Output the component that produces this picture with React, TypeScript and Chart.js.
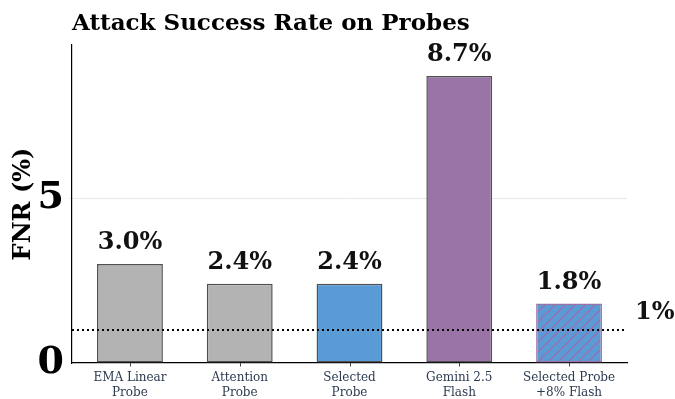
import React, { useEffect, useRef } from "react";
import { Chart, registerables } from "chart.js";

Chart.register(...registerables);

const categories: string[][] = [
  ["EMA Linear", "Probe"],
  ["Attention", "Probe"],
  ["Selected", "Probe"],
  ["Gemini 2.5", "Flash"],
  ["Selected Probe", "+8% Flash"],
];
const fnrValues = [3.0, 2.4, 2.4, 8.7, 1.8];
const valueLabels = ["3.0%", "2.4%", "2.4%", "8.7%", "1.8%"];
const yTicks = [0, 5];
const thresholdValue = 1;
const thresholdLabel = "1%";
const titleText = "Attack Success Rate on Probes";

const SERIF = "'DejaVu Serif', 'Liberation Serif', serif";

function makeHatch(): CanvasPattern | string {
  const c = document.createElement("canvas");
  c.width = 10;
  c.height = 10;
  const ctx = c.getContext("2d");
  if (!ctx) return "#5a9bd5";
  ctx.fillStyle = "#5a9bd5";
  ctx.fillRect(0, 0, 10, 10);
  ctx.strokeStyle = "#9a6fae";
  ctx.lineWidth = 1.3;
  ctx.beginPath();
  ctx.moveTo(-1, 11);
  ctx.lineTo(11, -1);
  ctx.moveTo(-6, 6);
  ctx.lineTo(6, -6);
  ctx.moveTo(4, 16);
  ctx.lineTo(16, 4);
  ctx.stroke();
  return ctx.createPattern(c, "repeat") || "#5a9bd5";
}

export default function App() {
  const ref = useRef<HTMLCanvasElement | null>(null);
  useEffect(() => {
    document.body.style.margin = "0";
    const canvas = ref.current;
    if (!canvas) return;
    const hatch = makeHatch();
    const overlay = {
      id: "overlay",
      afterDatasetsDraw(chart: any) {
        const { ctx, chartArea, scales } = chart;
        const y = scales.y;
        const x = scales.x;
        ctx.save();
        ctx.strokeStyle = "#444";
        ctx.lineWidth = 1;
        categories.forEach((_, i) => {
          const px = Math.round(x.getPixelForValue(i)) + 0.5;
          ctx.beginPath();
          ctx.moveTo(px, chartArea.bottom);
          ctx.lineTo(px, chartArea.bottom + 3.5);
          ctx.stroke();
        });
        const ty = y.getPixelForValue(thresholdValue);
        ctx.strokeStyle = "#000";
        ctx.lineWidth = 1.8;
        ctx.setLineDash([2, 3]);
        ctx.beginPath();
        ctx.moveTo(chartArea.left, ty);
        ctx.lineTo(chartArea.right, ty);
        ctx.stroke();
        ctx.setLineDash([]);
        ctx.fillStyle = "#111";
        ctx.font = `bold 24px ${SERIF}`;
        ctx.textAlign = "left";
        ctx.textBaseline = "middle";
        ctx.fillText(thresholdLabel, chartArea.right + 8, ty - 17);
        const meta = chart.getDatasetMeta(0);
        ctx.textAlign = "center";
        ctx.textBaseline = "alphabetic";
        meta.data.forEach((bar: any, i: number) => {
          ctx.fillText(valueLabels[i], bar.x, bar.y - 15);
        });
        ctx.font = `bold 23px ${SERIF}`;
        ctx.textAlign = "left";
        ctx.fillStyle = "#000";
        ctx.fillText(titleText, chartArea.left, 30);
        ctx.restore();
      },
    };
    const chart = new Chart(canvas, {
      type: "bar",
      data: {
        datasets: [
          {
            data: fnrValues.map((v, i) => ({ x: i, y: v })) as any,
            backgroundColor: ["#b3b3b3", "#b3b3b3", "#5a9bd5", "#9a74a6", hatch as any],
            borderColor: ["#505050", "#505050", "#505050", "#505050", "#9a74a6"],
            borderWidth: 1.5,
            borderSkipped: false,
            barPercentage: 0.6,
            categoryPercentage: 1,
          },
        ],
      },
      options: {
        animation: false,
        responsive: false,
        devicePixelRatio: 1,
        layout: { padding: { top: 45, right: 48, left: 0, bottom: 0 } },
        plugins: {
          legend: { display: false },
          tooltip: { enabled: false },
          title: { display: false },
        },
        scales: {
          x: {
            type: "linear",
            min: -0.528,
            max: 4.528,
            offset: false,
            border: { display: true, color: "#000", width: 1.2 },
            grid: { display: false, drawTicks: false, tickLength: 0 },
            afterBuildTicks(scale: any) {
              scale.ticks = categories.map((_, i) => ({ value: i }));
            },
            ticks: {
              color: "#2b3a4f",
              font: { family: SERIF, size: 12, lineHeight: 1.25 },
              padding: 7,
              maxRotation: 0,
              autoSkip: false,
              callback: (v: any) => categories[Math.round(Number(v))] as any,
            },
            afterFit(scale: any) {
              scale.height = 36;
            },
          },
          y: {
            min: 0,
            max: 9.64,
            border: { display: true, color: "#000", width: 1.2 },
            grid: { color: (c: any) => (c.tick && c.tick.value === 5 ? "#e8e8e8" : "rgba(0,0,0,0)"), tickLength: 3 },
            afterBuildTicks(scale: any) {
              scale.ticks = yTicks.map((v) => ({ value: v }));
            },
            ticks: {
              color: "#000",
              font: { family: SERIF, size: 38, weight: "bold" },
              padding: 5,
            },
            title: {
              display: true,
              text: "FNR (%)",
              color: "#000",
              font: { family: SERIF, size: 24, weight: "bold" },
              padding: { top: 9, bottom: 0 },
            },
            afterFit(scale: any) {
              scale.width = 72;
            },
          },
        },
      },
      plugins: [overlay],
    });
    return () => chart.destroy();
  }, []);
  return <canvas ref={ref} width={675} height={399} style={{ display: "block" }} />;
}
